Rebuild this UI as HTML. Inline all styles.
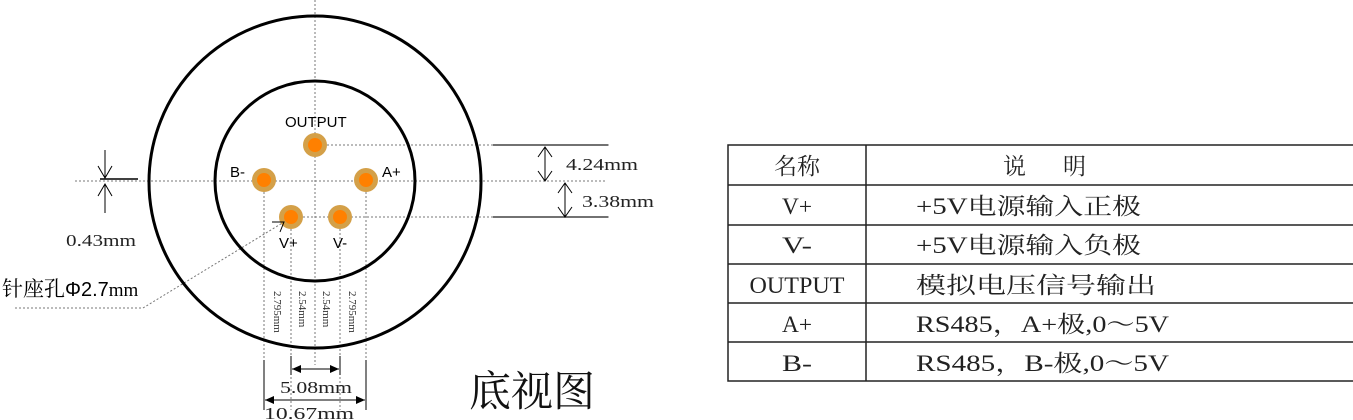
<!DOCTYPE html>
<html><head><meta charset="utf-8"><style>
html,body{margin:0;padding:0;background:#fff;width:1353px;height:420px;overflow:hidden}
svg{display:block}
.s{font-family:"Liberation Serif","Noto Serif CJK SC",serif}
.a{font-family:"Liberation Sans","Noto Sans CJK SC",sans-serif}
</style></head><body>
<svg width="1353" height="420" viewBox="0 0 1353 420" xmlns="http://www.w3.org/2000/svg">
<defs>
<marker id="af" markerWidth="10" markerHeight="10" refX="9" refY="5" orient="auto-start-reverse" markerUnits="userSpaceOnUse">
<path d="M0,1 L9,5 L0,9 Z" fill="#000"/></marker>
</defs>
<g stroke="#777" stroke-width="1" stroke-dasharray="2,2" fill="none">
<line x1="315" y1="0" x2="315" y2="365"/>
<line x1="315" y1="145" x2="610" y2="145"/>
<line x1="75" y1="181" x2="605" y2="181"/>
<line x1="291" y1="217" x2="610" y2="217"/>
<line x1="264" y1="180" x2="264" y2="410"/>
<line x1="291" y1="217" x2="291" y2="410"/>
<line x1="340" y1="217" x2="340" y2="410"/>
<line x1="366" y1="180" x2="366" y2="410"/>
<line x1="15" y1="308" x2="143" y2="308"/>
<line x1="143" y1="308" x2="284" y2="222"/>
</g>
<circle cx="315" cy="182" r="166" fill="none" stroke="#000" stroke-width="3"/>
<circle cx="315" cy="181" r="100" fill="none" stroke="#000" stroke-width="3"/>
<g>
<circle cx="315" cy="145" r="12" fill="#d4a048"/><circle cx="315" cy="145" r="7" fill="#ff8000"/>
<circle cx="264" cy="180" r="12" fill="#d4a048"/><circle cx="264" cy="180" r="7" fill="#ff8000"/>
<circle cx="366" cy="180" r="12" fill="#d4a048"/><circle cx="366" cy="180" r="7" fill="#ff8000"/>
<circle cx="291" cy="217" r="12" fill="#d4a048"/><circle cx="291" cy="217" r="7" fill="#ff8000"/>
<circle cx="340" cy="217" r="12" fill="#d4a048"/><circle cx="340" cy="217" r="7" fill="#ff8000"/>
</g>
<path d="M272,222 L284,222 L280,232" fill="none" stroke="#000" stroke-width="1"/>
<g class="a" font-size="15" fill="#000">
<text x="285" y="127">OUTPUT</text>
<text x="230" y="177">B-</text>
<text x="382" y="177">A+</text>
<text x="279" y="248">V+</text>
<text x="333" y="248">V-</text>
</g>
<g stroke="#444" stroke-width="1.5"><line x1="493" y1="145" x2="608" y2="145"/><line x1="493" y1="217" x2="608" y2="217"/></g>
<g stroke="#000" stroke-width="1" fill="none">
<line x1="545" y1="147" x2="545" y2="181"/><path d="M538,157 L545,147 L552,157 M538,171 L545,181 L552,171"/>
<line x1="565" y1="183" x2="565" y2="217"/><path d="M558,193 L565,183 L572,193 M558,207 L565,217 L572,207"/>
<line x1="105" y1="150" x2="105" y2="178"/><path d="M98,166 L105,178 L112,166"/>
<line x1="105" y1="184" x2="105" y2="213"/><path d="M98,196 L105,184 L112,196"/>
<line x1="100" y1="179" x2="138" y2="179" stroke-width="1.5"/>
<line x1="291" y1="356" x2="291" y2="375"/><line x1="340" y1="356" x2="340" y2="375"/>
<line x1="264" y1="360" x2="264" y2="410"/><line x1="366" y1="360" x2="366" y2="410"/>
<line x1="292" y1="369" x2="339" y2="369" marker-start="url(#af)" marker-end="url(#af)"/>
<line x1="265" y1="400" x2="365" y2="400" marker-start="url(#af)" marker-end="url(#af)"/>
</g>
<g class="s" font-size="17" fill="#222">
<text x="566" y="170" textLength="72" lengthAdjust="spacingAndGlyphs">4.24mm</text>
<text x="582" y="207" textLength="72" lengthAdjust="spacingAndGlyphs">3.38mm</text>
<text x="66" y="246" textLength="70" lengthAdjust="spacingAndGlyphs">0.43mm</text>
<text x="280" y="393" textLength="72" lengthAdjust="spacingAndGlyphs">5.08mm</text>
<text x="264" y="419" textLength="90" lengthAdjust="spacingAndGlyphs">10.67mm</text>
</g>
<text x="2" y="296" font-size="21" fill="#000"><tspan class="s">针座孔</tspan><tspan class="a" font-size="20">Φ2.7</tspan><tspan class="s" font-size="19">mm</tspan></text>
<g class="s" font-size="11" fill="#333">
<text transform="translate(274,291) rotate(90)">2.795mm</text>
<text transform="translate(299,291) rotate(90)">2.54mm</text>
<text transform="translate(323,291) rotate(90)">2.54mm</text>
<text transform="translate(349,291) rotate(90)">2.795mm</text>
</g>
<text x="469" y="406" class="s" font-size="42" fill="#111">底视图</text>
<g stroke="#222" stroke-width="1.5" fill="none">
<rect x="728" y="145" width="640" height="236"/>
<line x1="866" y1="145" x2="866" y2="381"/>
<line x1="728" y1="185" x2="1353" y2="185"/>
<line x1="728" y1="225" x2="1353" y2="225"/>
<line x1="728" y1="264" x2="1353" y2="264"/>
<line x1="728" y1="303" x2="1353" y2="303"/>
<line x1="728" y1="342" x2="1353" y2="342"/>
</g>
<g class="s" font-size="23" fill="#222">
<text x="797" y="174" text-anchor="middle">名称</text>
<text x="1003" y="174">说</text><text x="1063" y="174">明</text>
<text x="797" y="214" text-anchor="middle" textLength="30" lengthAdjust="spacingAndGlyphs">V+</text>
<text x="797" y="253" text-anchor="middle" textLength="30" lengthAdjust="spacingAndGlyphs">V-</text>
<text x="797" y="293" text-anchor="middle" textLength="95" lengthAdjust="spacingAndGlyphs">OUTPUT</text>
<text x="797" y="332" text-anchor="middle" textLength="30" lengthAdjust="spacingAndGlyphs">A+</text>
<text x="797" y="371" text-anchor="middle" textLength="30" lengthAdjust="spacingAndGlyphs">B-</text>
<text x="916" y="214" textLength="225" lengthAdjust="spacingAndGlyphs">+5V电源输入正极</text>
<text x="916" y="253" textLength="225" lengthAdjust="spacingAndGlyphs">+5V电源输入负极</text>
<text x="916" y="293" textLength="240" lengthAdjust="spacingAndGlyphs">模拟电压信号输出</text>
<text x="916" y="332" textLength="253" lengthAdjust="spacingAndGlyphs">RS485，A+极,0～5V</text>
<text x="916" y="371" textLength="253" lengthAdjust="spacingAndGlyphs">RS485，B-极,0～5V</text>
</g>
</svg>
</body></html>
